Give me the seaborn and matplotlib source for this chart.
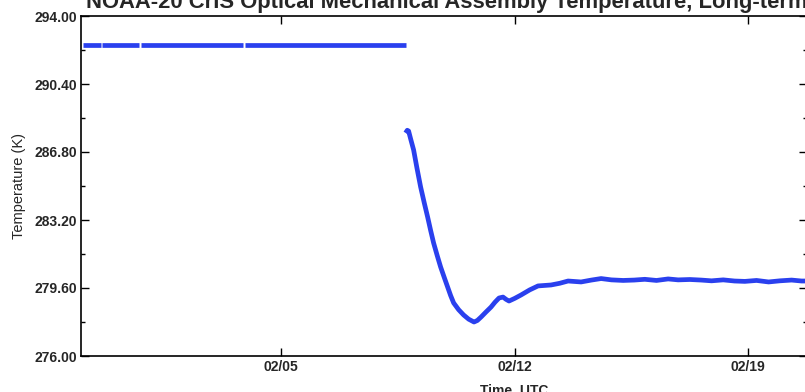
import matplotlib
matplotlib.use("Agg")
import matplotlib.pyplot as plt
import matplotlib.dates as mdates
from matplotlib.ticker import FixedLocator, FormatStrFormatter
import pandas as pd
import seaborn as sns

# ---- data (days after 2018-01-30 00:00 UTC, temperature in K) ----
seg1_days = [0.06, 0.60, 0.63, 1.74, 1.80, 4.87, 4.93, 9.73]
seg1_temp = [292.47, 292.47, 292.47, 292.47, 292.48, 292.48, 292.48, 292.48]
seg1_part = [0, 0, 1, 1, 2, 2, 3, 3]

seg2_days = [9.73, 9.78, 9.82, 9.88, 9.97, 10.07, 10.18, 10.29, 10.39, 10.48,
             10.57, 10.68, 10.78, 10.89, 10.99, 11.08, 11.17, 11.32, 11.47,
             11.62, 11.78, 11.88, 11.99, 12.14, 12.29, 12.41, 12.53, 12.65,
             12.74, 12.83, 13.00, 13.19, 13.45, 13.70, 14.09, 14.35, 14.60,
             14.99, 15.30, 15.59, 15.90, 16.25, 16.58, 16.90, 17.25, 17.60,
             17.90, 18.25, 18.59, 18.90, 19.25, 19.59, 19.90, 20.25, 20.61,
             20.95, 21.30, 21.60, 21.80]
seg2_temp = [287.81, 287.95, 287.91, 287.50, 286.91, 285.95, 284.95, 284.10,
             283.36, 282.65, 281.98, 281.30, 280.71, 280.15, 279.65, 279.20,
             278.81, 278.45, 278.17, 277.95, 277.80, 277.88, 278.06, 278.33,
             278.59, 278.85, 279.07, 279.12, 279.00, 278.91, 279.05, 279.23,
             279.50, 279.71, 279.76, 279.85, 279.97, 279.92, 280.02, 280.10,
             280.03, 280.00, 280.02, 280.06, 280.00, 280.08, 280.03, 280.05,
             280.02, 279.98, 280.03, 279.97, 279.95, 280.00, 279.92, 279.98,
             280.02, 279.97, 279.97]

start = pd.Timestamp("2018-01-30 00:00")
xlim_days = (0.0, 21.75)
ytick_values = [276.0, 279.6, 283.2, 286.8, 290.4, 294.0]
yminor_values = [277.8, 281.4, 285.0, 288.6, 292.2]
ylim = (276.0, 294.0)

title = "NOAA-20 CrIS Optical Mechanical Assembly Temperature, Long-term"
xlabel = "Time, UTC"
ylabel = "Temperature (K)"

# ---- build table ----
rows = []
for d, t, p in zip(seg1_days, seg1_temp, seg1_part):
    rows.append((start + pd.Timedelta(days=d), t, f"a{p}"))
for d, t in zip(seg2_days, seg2_temp):
    rows.append((start + pd.Timedelta(days=d), t, "b"))
df = pd.DataFrame(rows, columns=["time", "temp", "seg"])

sns.set_theme(style="ticks")
plt.rcParams["font.family"] = ["Liberation Sans", "DejaVu Sans"]

fig = plt.figure(figsize=(8.05, 3.92), dpi=100)
ax = fig.add_axes([81 / 805, 1 - 356 / 392, 1 - 81 / 805 + 0.002, (356 - 16) / 392])

blue = "#2a40ee"
sns.lineplot(data=df, x="time", y="temp", units="seg", estimator=None,
             sort=False, color=blue, linewidth=3.4, ax=ax, legend=False)
for ln in ax.get_lines():
    ln.set_solid_capstyle("butt")
    ln.set_solid_joinstyle("round")

ax.set_xlim(start + pd.Timedelta(days=xlim_days[0]), start + pd.Timedelta(days=xlim_days[1]))
ax.set_ylim(*ylim)

ax.xaxis.set_major_locator(mdates.DayLocator(bymonthday=[5, 12, 19]))
ax.xaxis.set_major_formatter(mdates.DateFormatter("%m/%d"))
ax.yaxis.set_major_locator(FixedLocator(ytick_values))
ax.yaxis.set_minor_locator(FixedLocator(yminor_values))
ax.yaxis.set_major_formatter(FormatStrFormatter("%.2f"))

ax.tick_params(axis="both", which="major", direction="in", length=6, width=1.0,
               top=True, right=True, labelsize=10, color="black", pad=3)
ax.tick_params(axis="y", which="minor", direction="in", length=3, width=1.0,
               right=True, left=True, color="black")
for lab in ax.get_xticklabels() + ax.get_yticklabels():
    lab.set_fontweight("bold")

for sp in ax.spines.values():
    sp.set_visible(True)
    sp.set_linewidth(1.2)
    sp.set_color("black")

ax.set_xlabel(xlabel, fontsize=10, fontweight="bold", labelpad=1)
ax.xaxis.set_label_coords((513 - 81) / (805 - 81), -0.08)
ax.set_ylabel(ylabel, fontsize=10.5, labelpad=6)

fig.text(447 / 805, 1 - 8 / 392, title, ha="center", va="baseline",
         fontsize=15.8, fontweight="bold")

fig.savefig("out.png", dpi=100)
